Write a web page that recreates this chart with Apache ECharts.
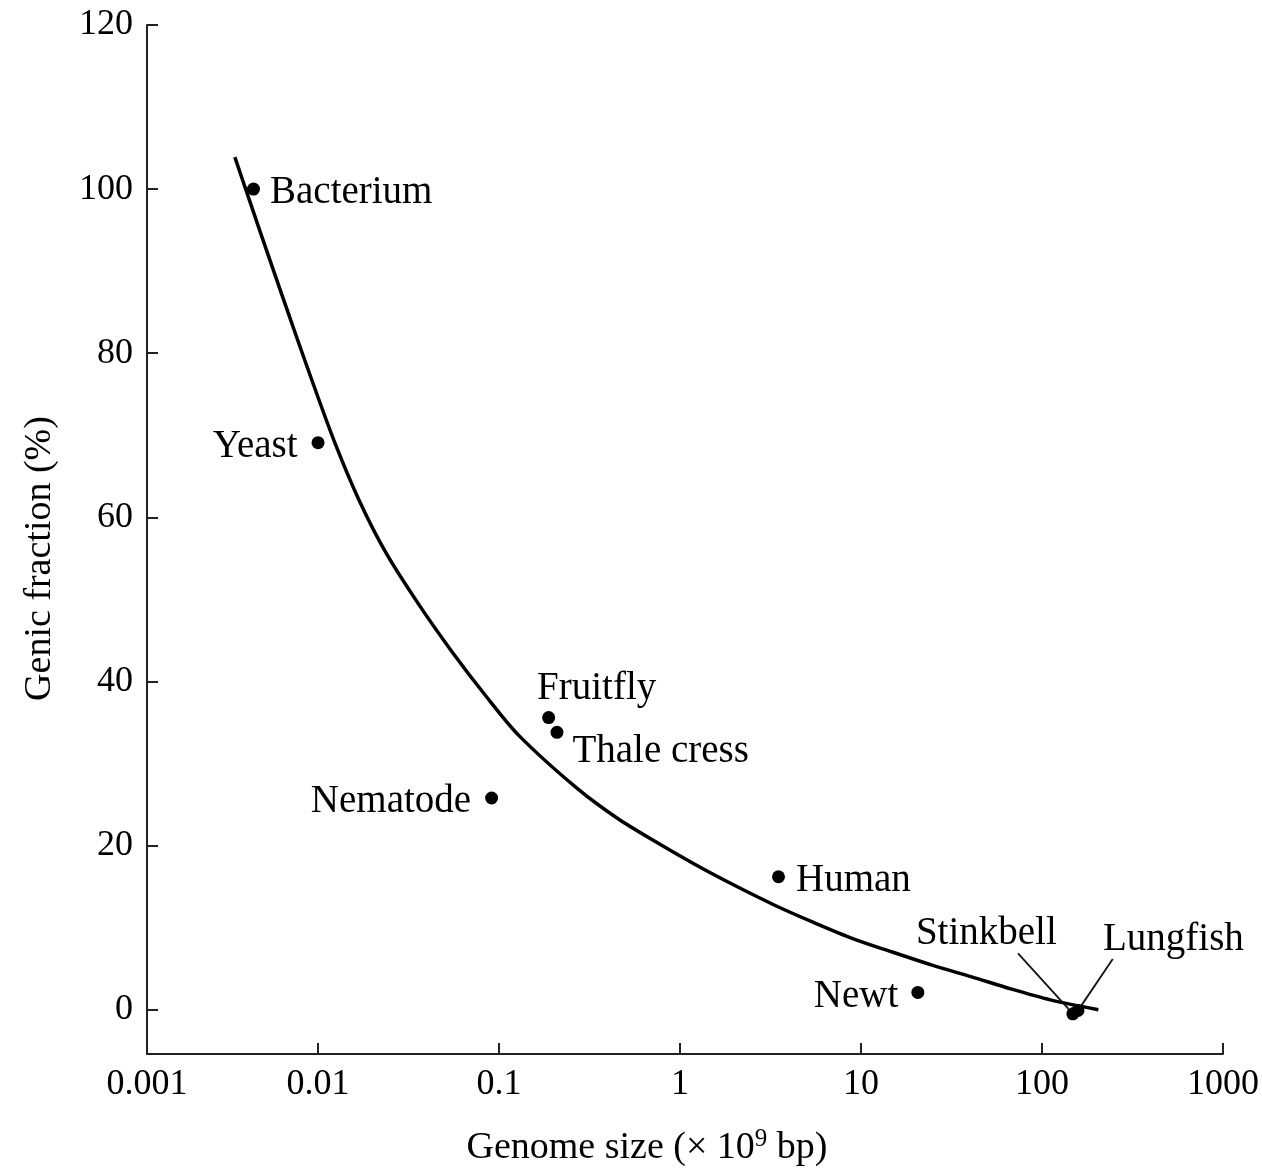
<!DOCTYPE html>
<html>
<head>
<meta charset="utf-8">
<script src="https://cdn.jsdelivr.net/npm/echarts@6/dist/echarts.min.js"></script>
<style>
html,body{margin:0;padding:0;background:#fff;}
#chart{width:1262px;height:1172px;}
</style>
</head>
<body>
<div id="chart"></div>
<script>
// ---- data ----
const speciesNames  = ['Bacterium', 'Yeast', 'Nematode', 'Fruitfly', 'Thale cress', 'Human', 'Newt', 'Stinkbell', 'Lungfish'];
const genomeSize    = [0.0044, 0.0100, 0.091, 0.188, 0.209, 3.5, 20.6, 148, 158];   // x 10^9 bp
const genicFraction = [100, 69.1, 25.8, 35.6, 33.8, 16.2, 2.1, -0.5, -0.1];          // %

// fitted curve as drawn in the reference (read-off points along the line)
const curveX = [0.00347, 0.00420, 0.00541, 0.00697, 0.00898, 0.01233, 0.01693, 0.02384, 0.03624,
                0.05508, 0.0848, 0.1289, 0.2724, 0.4524, 0.7421, 1.233, 2.022, 3.359,
                5.508, 9.149, 15.01, 24.93, 40.89, 67.92, 111.4, 204.8];
const curveY = [103.9, 98.5, 91.4, 84.4, 77.5, 69.2, 62.0, 55.6, 49.3,
                43.6, 38.2, 33.4, 26.9, 23.3, 20.4, 17.6, 15.1, 12.7,
                10.6, 8.6, 7.0, 5.4, 4.0, 2.5, 1.2, 0.0];

const xTickLabels = ['0.001', '0.01', '0.1', '1', '10', '100', '1000'];
const yTickValues = [0, 20, 40, 60, 80, 100, 120];

// ---- presentation ----
const FONT = 'Liberation Serif';
const INK = '#000';
const labelPlacement = {
  'Bacterium':   { position: 'right', distance: 10 },
  'Yeast':       { position: 'left', distance: 14 },
  'Nematode':    { position: 'left', distance: 14 },
  'Fruitfly':    { position: 'top', distance: 7 },
  'Thale cress': { position: 'right', distance: 9 },
  'Human':       { position: 'right', distance: 11 },
  'Newt':        { position: 'left', distance: 13 },
  // an invisible spacer widens the label box so the guide line leaves from its lower edge
  'Stinkbell':   { position: 'top', distance: 5, formatter: '{b}{gap| }', rich: { gap: { width: 117 } } },
  'Lungfish':    { position: 'top', distance: 5, formatter: '{gap| }{b}', rich: { gap: { width: 233 } } }
};
const labelMove = {
  'Fruitfly':    { dx: 48, dy: 0 },
  'Thale cress': { dx: 0, dy: 15 },
  'Stinkbell':   { dx: -28, dy: -53, guide: true },
  'Lungfish':    { dx: -21, dy: -44, guide: true }
};
const LABEL_BASE_DY = 4;

const pointData = speciesNames.map((n, i) => ({
  name: n,
  value: [genomeSize[i], genicFraction[i]],
  label: Object.assign({ show: true }, labelPlacement[n]),
  labelLine: { show: !!(labelMove[n] && labelMove[n].guide) }
}));
const curveData = curveX.map((x, i) => [x, curveY[i]]);

const chart = echarts.init(document.getElementById('chart'), null, { renderer: 'canvas' });
chart.setOption({
  backgroundColor: '#fff',
  animation: false,
  grid: { left: 147, right: 36, top: 25, bottom: 109, containLabel: false },
  xAxis: {
    type: 'log',
    logBase: 10,
    min: 0.001135,
    max: 1000,
    name: 'Genome size (× 10{sup|9} bp)',
    nameLocation: 'middle',
    nameGap: 73,
    nameTextStyle: {
      fontFamily: FONT, fontSize: 38, color: INK, padding: [0, 76, 0, 0],
      rich: { sup: { fontFamily: FONT, fontSize: 25, color: INK, padding: [0, 0, 17, 0] } }
    },
    axisLine: { show: true, onZero: false, lineStyle: { color: '#222', width: 2 } },
    axisTick: { show: true, inside: true, length: 11, lineStyle: { color: '#222', width: 2 } },
    minorTick: { show: false },
    splitLine: { show: false },
    axisLabel: {
      fontFamily: FONT, fontSize: 36, color: INK, margin: 13,
      showMinLabel: true, showMaxLabel: true,
      formatter: function (v) {
        const k = Math.round(Math.log10(v)) + 3;
        return xTickLabels[k] !== undefined ? xTickLabels[k] : '';
      }
    }
  },
  yAxis: {
    type: 'value',
    min: -5.4,
    max: 120,
    splitNumber: 6,
    name: 'Genic fraction (%)',
    nameLocation: 'middle',
    nameGap: 88,
    nameRotate: 90,
    nameTextStyle: { fontFamily: FONT, fontSize: 38, color: INK, padding: [0, 38, 0, 0] },
    axisLine: { show: true, onZero: false, lineStyle: { color: '#222', width: 2 } },
    axisTick: { show: true, inside: true, length: 11, lineStyle: { color: '#222', width: 2 } },
    splitLine: { show: false },
    axisLabel: {
      fontFamily: FONT, fontSize: 36, color: INK, margin: 14,
      formatter: function (v) {
        const r = Math.round(v);
        return (Math.abs(v - r) < 1e-6 && yTickValues.indexOf(r) >= 0) ? String(r) : '';
      }
    }
  },
  series: [
    {
      type: 'line',
      data: curveData,
      smooth: 0.3,
      showSymbol: false,
      silent: true,
      lineStyle: { color: '#000', width: 3.5 },
      z: 2
    },
    {
      type: 'scatter',
      data: pointData,
      symbol: 'circle',
      symbolSize: 13,
      itemStyle: { color: '#000', opacity: 1 },
      label: { show: true, fontFamily: FONT, fontSize: 39, color: INK, formatter: '{b}' },
      labelLine: { lineStyle: { color: '#111', width: 1.8, opacity: 1 } },
      labelLayout: function (p) {
        const m = labelMove[speciesNames[p.dataIndex]] || { dx: 0, dy: 0 };
        return { dx: m.dx, dy: m.dy + LABEL_BASE_DY };
      },
      emphasis: { disabled: true },
      z: 3
    }
  ]
});
</script>
</body>
</html>
